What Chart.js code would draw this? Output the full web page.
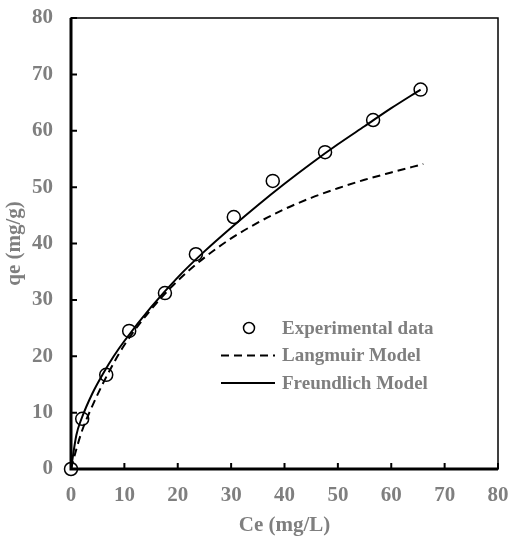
<!DOCTYPE html>
<html>
<head>
<meta charset="utf-8">
<script src="https://cdn.jsdelivr.net/npm/chart.js@4"></script>
<style>
  html, body { margin: 0; padding: 0; background: #fff; }
  #wrap { width: 511px; height: 539px; }
</style>
</head>
<body>
<div id="wrap"><canvas id="isotherm-chart"></canvas></div>
<script>
// experimental points
const expCe = [0, 2.1, 6.6, 10.9, 17.6, 23.4, 30.5, 37.8, 47.6, 56.6, 65.5];
const expQe = [0, 8.9, 16.7, 24.5, 31.2, 38.1, 44.7, 51.1, 56.2, 61.9, 67.3];

// model curves
const langCe = [0, 1, 2, 4, 6, 8, 10, 15, 20, 25, 30, 35, 40, 45, 50, 55, 60, 66];
const langQe = [0, 3.5, 6.6, 11.2, 15.2, 18.8, 22.0, 28.3, 33.4, 37.5, 40.9, 43.7, 46.1, 48.1, 49.8, 51.3, 52.6, 54.1];

const freCe = [0, 1, 2, 4, 6, 8, 10, 15, 20, 25, 30, 35, 40, 45, 50, 55, 60, 65.5];
const freQe = [0, 6.0, 9.0, 13.4, 16.9, 20.0, 22.7, 28.7, 34.0, 38.6, 42.8, 46.8, 50.6, 54.2, 57.6, 60.8, 64.0, 67.3];

const axisTicks = [0, 10, 20, 30, 40, 50, 60, 70, 80];
const seriesNames = ['Experimental data', 'Langmuir Model', 'Freundlich Model'];

const toXY = (xs, ys) => xs.map((x, i) => ({ x: x, y: ys[i] }));
const grey = '#7f7f7f';
const fontFam = '"Liberation Serif", "Times New Roman", serif';

// box border + inward ticks (under the markers)
const frame = {
  id: 'frame',
  beforeDatasetsDraw(chart) {
    const { ctx, chartArea: a, scales } = chart;
    ctx.save();
    ctx.strokeStyle = '#000';
    ctx.lineWidth = 1.5;
    ctx.strokeRect(a.left, a.top, a.right - a.left, a.bottom - a.top);
    ctx.lineWidth = 3;
    ctx.beginPath();
    ctx.moveTo(a.left, a.top);
    ctx.lineTo(a.left, a.bottom);
    ctx.lineTo(a.right, a.bottom);
    ctx.stroke();
    ctx.lineWidth = 2;
    ctx.beginPath();
    axisTicks.forEach(v => {
      const px = scales.x.getPixelForValue(v);
      ctx.moveTo(px, a.bottom);
      ctx.lineTo(px, a.bottom - 6);
      const py = scales.y.getPixelForValue(v);
      ctx.moveTo(a.left, py);
      ctx.lineTo(a.left + 6, py);
    });
    ctx.stroke();
    ctx.restore();
  }
};

// legend drawn inside the plot
const innerLegend = {
  id: 'innerLegend',
  afterDraw(chart) {
    const { ctx } = chart;
    const x0 = 221, y0 = 328, step = 27.5;
    ctx.save();
    ctx.font = 'bold 19px ' + fontFam;
    ctx.fillStyle = grey;
    ctx.textBaseline = 'middle';
    seriesNames.forEach((name, i) => {
      const y = y0 + i * step;
      ctx.strokeStyle = '#000';
      ctx.lineWidth = 1.5;
      ctx.beginPath();
      if (i === 0) {
        ctx.arc(249, y, 5.5, 0, Math.PI * 2);
        ctx.stroke();
      } else {
        ctx.lineWidth = 2;
        ctx.setLineDash(i === 1 ? [8, 5] : []);
        ctx.moveTo(x0, y);
        ctx.lineTo(275, y);
        ctx.stroke();
        ctx.setLineDash([]);
      }
      ctx.fillText(name, 282, y + 1);
    });
    ctx.restore();
  }
};

const tickFont = { family: fontFam, size: 21, weight: 'bold' };
const titleFont = { family: fontFam, size: 21, weight: 'bold' };

new Chart(document.getElementById('isotherm-chart'), {
  type: 'scatter',
  data: {
    datasets: [
      {
        label: seriesNames[0],
        data: toXY(expCe, expQe),
        pointStyle: 'circle',
        pointRadius: 6.5,
        pointBorderWidth: 1.5,
        pointBorderColor: '#000',
        pointBackgroundColor: 'rgba(255,255,255,0)',
        showLine: false,
        clip: false,
        order: 0
      },
      {
        label: seriesNames[1],
        data: toXY(langCe, langQe),
        showLine: true,
        borderColor: '#000',
        borderWidth: 2,
        borderDash: [8, 5],
        pointRadius: 0,
        cubicInterpolationMode: 'monotone',
        order: 1
      },
      {
        label: seriesNames[2],
        data: toXY(freCe, freQe),
        showLine: true,
        borderColor: '#000',
        borderWidth: 2,
        pointRadius: 0,
        cubicInterpolationMode: 'monotone',
        order: 2
      }
    ]
  },
  options: {
    responsive: true,
    maintainAspectRatio: false,
    animation: false,
    layout: { padding: { top: 0, right: 0, bottom: 0, left: 0 } },
    plugins: {
      legend: { display: false },
      tooltip: { enabled: false }
    },
    scales: {
      x: {
        type: 'linear',
        min: 0,
        max: 80,
        afterBuildTicks: s => { s.ticks = axisTicks.map(v => ({ value: v })); },
        afterFit: s => { s.height = 70; s.paddingLeft = 0; s.paddingRight = 13; },
        grid: { display: false, drawTicks: false },
        border: { display: false },
        ticks: { color: grey, padding: 14, maxRotation: 0, font: tickFont },
        title: { display: true, text: 'Ce (mg/L)', color: grey, padding: { top: 0, bottom: 1 }, font: titleFont }
      },
      y: {
        type: 'linear',
        min: 0,
        max: 80,
        afterBuildTicks: s => { s.ticks = axisTicks.map(v => ({ value: v })); },
        afterFit: s => { s.width = 71; s.paddingTop = 18; s.paddingBottom = 0; },
        grid: { display: false, drawTicks: false },
        border: { display: false },
        ticks: { color: grey, padding: 18, font: tickFont },
        title: { display: true, text: 'qe (mg/g)', color: grey, padding: { top: 2, bottom: 0 }, font: titleFont }
      }
    }
  },
  plugins: [frame, innerLegend]
});
</script>
</body>
</html>
